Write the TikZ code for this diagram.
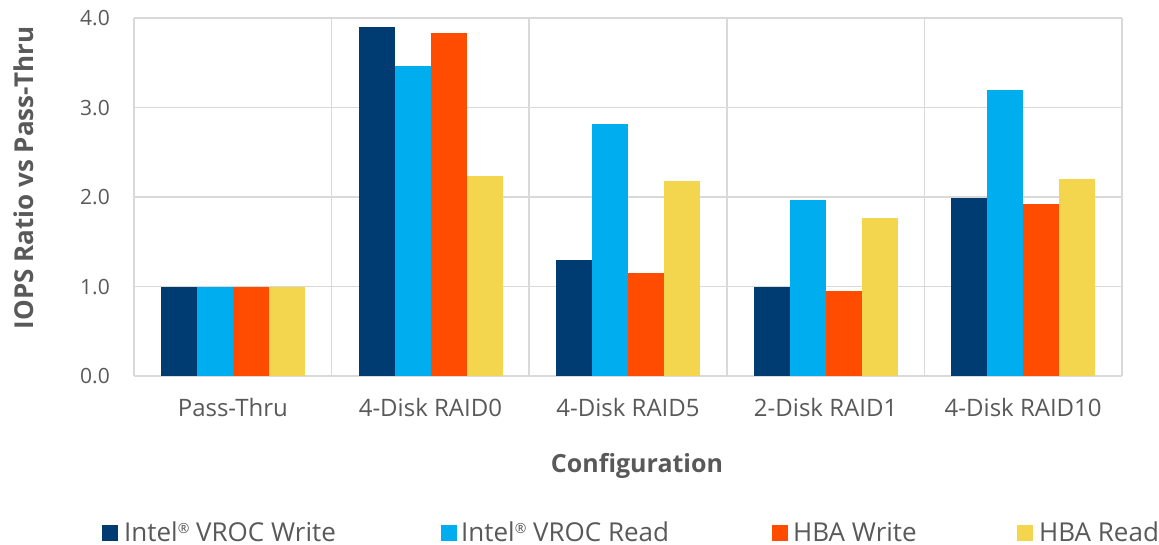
\documentclass[tikz,border=0pt]{standalone}
\usepackage{fontspec}
\setmainfont{Open Sans}
\definecolor{vrocW}{HTML}{003C71}
\definecolor{vrocR}{HTML}{00AEEF}
\definecolor{hbaW}{HTML}{FF4C00}
\definecolor{hbaR}{HTML}{F3D54E}
\definecolor{gridgray}{HTML}{D9D9D9}
\definecolor{txt}{HTML}{595959}
\newcommand{\regmark}{\raisebox{0.55ex}{\fontsize{14}{14}\selectfont ®}}
\tikzset{
  gridline/.style={draw=gridgray, line width=1.5pt},
  ticklbl/.style={text=txt, font=\fontsize{21}{21}\selectfont, inner sep=0pt},
  catlbl/.style={text=txt, font=\fontsize{24}{24}\selectfont, inner sep=0pt, anchor=base},
  axtitle/.style={text=txt, font=\fontsize{25}{25}\selectfont\bfseries, inner sep=0pt},
  legtxt/.style={text=txt, font=\fontsize{26}{26}\selectfont, inner sep=0pt, text depth=0pt, anchor=base west},
}
\begin{document}
\begin{tikzpicture}[x=1pt,y=-1pt]
\useasboundingbox (0,0) rectangle (1159,544);
% horizontal grid and plot frame
\foreach \v in {0,...,4}
  \draw[gridline] (134,{376-89.5*\v}) -- (1122,{376-89.5*\v});
\foreach \i in {0,...,5}
  \draw[gridline] ({134+197.6*\i},18) -- ({134+197.6*\i},376);
% bars: category index / four series values
\foreach \i/\a/\b/\c/\d in {0/1/1/1/1, 1/3.90/3.46/3.83/2.24, 2/1.30/2.82/1.15/2.175, 3/1.00/1.97/0.953/1.765, 4/1.99/3.20/1.92/2.205}{
  \fill[vrocW] ({134+197.6*\i+27},376) rectangle ++(36,{-89.5*\a});
  \fill[vrocR] ({134+197.6*\i+63},376) rectangle ++(36,{-89.5*\b});
  \fill[hbaW]  ({134+197.6*\i+99},376) rectangle ++(36,{-89.5*\c});
  \fill[hbaR]  ({134+197.6*\i+135},376) rectangle ++(36,{-89.5*\d});
}
% value axis labels
\foreach \v in {0,...,4}
  \node[ticklbl, anchor=base east] (t\v) at (110,{376-89.5*\v+7.5}) {\v.0};
% category labels
\foreach \i/\name in {0/Pass-Thru, 1/4-Disk RAID0, 2/4-Disk RAID5, 3/2-Disk RAID1, 4/4-Disk RAID10}
  \node[catlbl] (c\i) at ({134+197.6*\i+98.8},416.5) {\name};
% axis titles
\node[axtitle, anchor=base, rotate=90, font=\fontsize{26}{26}\selectfont\bfseries] (ytitle) at (33,178) {IOPS Ratio vs Pass-Thru};
\node[axtitle, anchor=base] (xtitle) at (637,472) {Configuration};
% legend
\fill[vrocW] (102,525) rectangle (118,541);
\node[legtxt] (l1) at (124,541) {Intel\regmark\ VROC Write};
\fill[vrocR] (441,525) rectangle (457,541);
\node[legtxt] (l2) at (461,541) {Intel\regmark\ VROC Read};
\fill[hbaW] (772,525) rectangle (788,541);
\node[legtxt] (l3) at (793,541) {HBA Write};
\fill[hbaR] (1017,525) rectangle (1033,541);
\node[legtxt] (l4) at (1039,541) {HBA Read};
\end{tikzpicture}
\end{document}
